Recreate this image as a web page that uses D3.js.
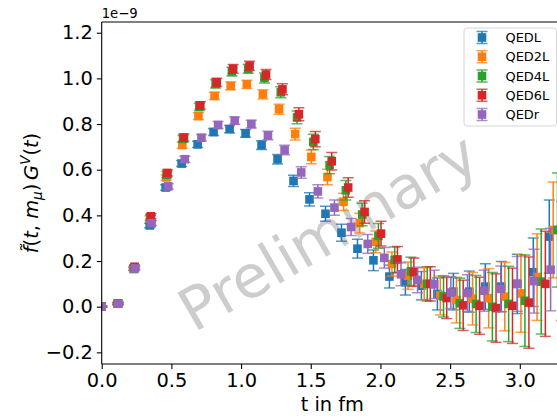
<!DOCTYPE html>
<html><head><meta charset="utf-8">
<script src="https://cdn.jsdelivr.net/npm/d3@7"></script>
<style>html,body{margin:0;padding:0;background:#fff;overflow:hidden}svg{display:block;font-family:"DejaVu Sans",sans-serif}</style>
</head><body><svg id="c" width="557" height="416"></svg>
<script>
// ---- data (values in units of 1e-9) ----
const seriesNames = ["QEDL", "QED2L", "QED4L", "QED6L", "QEDr"];
const seriesColors = ["#1f77b4", "#ff7f0e", "#2ca02c", "#d62728", "#9467bd"];
// time slices n and lattice spacing (fm) used for each series on the t axis
const timeSlices = [0,1,2,3,4,5,6,7,8,9,10,11,12,13,14,15,16,17,18,19,20,21,22,23,24,25,26,27,28];
const latticeSpacing = [0.1147, 0.1157, 0.1168, 0.1179, 0.1193];

const qedL    = [0.000,0.013,0.165,0.356,0.522,0.627,0.711,0.765,0.778,0.759,0.708,0.646,0.551,0.470,0.407,0.324,0.254,0.203,0.132,0.107,0.092,0.056,0.066,0.066,0.088,0.088,0.100,0.151,0.307];
const qedLErr = [0.002,0.004,0.007,0.010,0.012,0.013,0.014,0.015,0.016,0.017,0.019,0.021,0.025,0.029,0.033,0.037,0.041,0.045,0.050,0.056,0.062,0.070,0.080,0.090,0.100,0.110,0.130,0.150,0.160];
const qed2L    = [0.000,0.014,0.168,0.387,0.566,0.708,0.835,0.923,0.967,0.974,0.930,0.865,0.756,0.656,0.568,0.459,0.366,0.284,0.187,0.136,0.100,0.049,0.029,0.035,0.037,0.044,0.058,0.130,0.336];
const qed2LErr = [0.002,0.004,0.007,0.010,0.012,0.014,0.015,0.016,0.017,0.018,0.020,0.022,0.026,0.030,0.034,0.038,0.043,0.048,0.053,0.060,0.070,0.085,0.100,0.115,0.130,0.150,0.170,0.190,0.210];
const qed4L    = [0.000,0.014,0.170,0.390,0.578,0.735,0.875,0.976,1.030,1.042,1.002,0.939,0.829,0.722,0.620,0.510,0.404,0.310,0.205,0.155,0.100,0.045,0.015,0.012,0.000,0.012,0.026,0.110,0.336];
const qed4LErr = [0.002,0.004,0.008,0.011,0.013,0.015,0.016,0.018,0.019,0.020,0.022,0.024,0.028,0.033,0.038,0.043,0.049,0.054,0.057,0.062,0.075,0.090,0.110,0.125,0.150,0.165,0.200,0.230,0.250];
const qed6L    = [0.000,0.015,0.175,0.396,0.586,0.741,0.882,0.983,1.042,1.055,1.017,0.952,0.843,0.734,0.637,0.522,0.415,0.320,0.207,0.151,0.100,0.038,0.006,0.004,-0.006,0.004,0.018,0.100,0.200];
const qed6LErr = [0.002,0.004,0.008,0.011,0.013,0.015,0.016,0.018,0.019,0.020,0.022,0.024,0.028,0.033,0.038,0.043,0.049,0.054,0.057,0.062,0.075,0.090,0.110,0.125,0.150,0.165,0.200,0.230,0.260];
const qedR    = [0.000,0.013,0.168,0.366,0.527,0.646,0.740,0.796,0.815,0.800,0.750,0.686,0.588,0.505,0.434,0.349,0.275,0.214,0.142,0.117,0.098,0.062,0.060,0.070,0.078,0.100,0.112,0.162,0.170];
const qedRErr = [0.002,0.004,0.007,0.010,0.012,0.013,0.014,0.015,0.016,0.017,0.019,0.021,0.025,0.029,0.033,0.037,0.041,0.045,0.050,0.056,0.062,0.070,0.080,0.090,0.100,0.120,0.140,0.180,0.200];

const seriesValues = [qedL, qed2L, qed4L, qed6L, qedR];
const seriesErrors = [qedLErr, qed2LErr, qed4LErr, qed6LErr, qedRErr];

const xTicks = [0, 0.5, 1.0, 1.5, 2.0, 2.5, 3.0];
const yTicks = [-0.2, 0.0, 0.2, 0.4, 0.6, 0.8, 1.0, 1.2];
const xDomain = [0, 3.31];
const yDomain = [-0.251, 1.247];

// ---- layout ----
const svg = d3.select("#c");
const L = 101.7, R = 563, T = 22, B = 364;
const x = d3.scaleLinear().domain(xDomain).range([L, R]);
const y = d3.scaleLinear().domain(yDomain).range([B, T]);
const fs = 19.4;

svg.append("defs").append("clipPath").attr("id", "plotclip")
  .append("rect").attr("x", L).attr("y", T).attr("width", R - L).attr("height", B - T);

// watermark
svg.append("text")
  .attr("transform", "translate(328,232) rotate(-30)")
  .attr("text-anchor", "middle").attr("dominant-baseline", "central")
  .attr("font-size", 59).attr("fill", "#cdcdcd")
  .text("Preliminary");

// data
const plot = svg.append("g").attr("clip-path", "url(#plotclip)");
const half = 5.5, ms = 8.6;
seriesNames.forEach((name, k) => {
  const pts = timeSlices.map((n, i) => ({t: n * latticeSpacing[k], v: seriesValues[k][i], e: seriesErrors[k][i]}));
  const g = plot.append("g").attr("fill", seriesColors[k]).attr("stroke", seriesColors[k]);
  g.selectAll("line.eb").data(pts).join("line").attr("class", "eb")
    .attr("x1", d => x(d.t)).attr("x2", d => x(d.t))
    .attr("y1", d => y(d.v - d.e)).attr("y2", d => y(d.v + d.e))
    .attr("stroke-width", 1.5);
  g.selectAll("line.cu").data(pts).join("line").attr("class", "cu")
    .attr("x1", d => x(d.t) - half).attr("x2", d => x(d.t) + half)
    .attr("y1", d => y(d.v + d.e)).attr("y2", d => y(d.v + d.e))
    .attr("stroke-width", 1.5).attr("stroke-opacity", 0.75);
  g.selectAll("line.cl").data(pts).join("line").attr("class", "cl")
    .attr("x1", d => x(d.t) - half).attr("x2", d => x(d.t) + half)
    .attr("y1", d => y(d.v - d.e)).attr("y2", d => y(d.v - d.e))
    .attr("stroke-width", 1.5).attr("stroke-opacity", 0.75);
  g.selectAll("rect").data(pts).join("rect")
    .attr("x", d => x(d.t) - ms / 2).attr("y", d => y(d.v) - ms / 2)
    .attr("width", ms).attr("height", ms).attr("stroke", "none");
});

// axes
const xAxis = svg.append("g").attr("transform", `translate(0,${B})`)
  .call(d3.axisBottom(x).tickValues(xTicks).tickFormat(d3.format(".1f")).tickSizeInner(4.9).tickSizeOuter(0).tickPadding(4));
const yAxis = svg.append("g").attr("transform", `translate(${L},0)`)
  .call(d3.axisLeft(y).tickValues(yTicks).tickFormat(d3.format(".1f")).tickSizeInner(4.9).tickSizeOuter(0).tickPadding(4));
[xAxis, yAxis].forEach(a => {
  a.selectAll("text").attr("font-size", fs).attr("font-family", "DejaVu Sans").attr("fill", "#000");
  a.selectAll(".tick line").attr("stroke", "#000").attr("stroke-width", 1.1);
  a.select(".domain").remove();
});
// spines
svg.append("line").attr("x1", L).attr("x2", R).attr("y1", B).attr("y2", B).attr("stroke", "#000").attr("stroke-width", 1.1);
svg.append("line").attr("x1", L).attr("x2", L).attr("y1", T).attr("y2", B).attr("stroke", "#000").attr("stroke-width", 1.1);
svg.append("line").attr("x1", L).attr("x2", R).attr("y1", T).attr("y2", T).attr("stroke", "#000").attr("stroke-width", 1.1);

// offset text
svg.append("text").attr("x", L).attr("y", 17.5).attr("font-size", 13.2).text("1e\u22129");

// axis labels
svg.append("text").attr("x", (L + R) / 2).attr("y", 411).attr("text-anchor", "middle").attr("font-size", fs).text("t in fm");

const yl = svg.append("text").attr("transform", `translate(38,${(T + B) / 2}) rotate(-90)`)
  .attr("text-anchor", "middle").attr("font-size", fs);
yl.append("tspan").attr("font-style", "italic").text("f\u0303");
yl.append("tspan").text("(");
yl.append("tspan").attr("font-style", "italic").text("t");
yl.append("tspan").text(", ");
yl.append("tspan").attr("font-style", "italic").text("m");
yl.append("tspan").attr("font-style", "italic").attr("font-size", fs * 0.7).attr("dy", 4).text("\u03bc");
yl.append("tspan").attr("dy", -4).text(")\u2009");
yl.append("tspan").attr("font-style", "italic").text("G");
yl.append("tspan").attr("font-style", "italic").attr("font-size", fs * 0.7).attr("dy", -8).text("V");
yl.append("tspan").attr("dy", 8).text("(");
yl.append("tspan").attr("font-style", "italic").text("t");
yl.append("tspan").text(")");

// legend
const lg = svg.append("g");
lg.append("rect").attr("x", 464).attr("y", 28).attr("width", 92.5).attr("height", 98).attr("rx", 3)
  .attr("fill", "#fff").attr("fill-opacity", 0.8).attr("stroke", "#d6d6d6").attr("stroke-width", 1);
seriesNames.forEach((name, k) => {
  const cy = 37.5 + k * 19.25;
  const c = seriesColors[k];
  const hg = lg.append("g").attr("stroke", c).attr("fill", c);
  hg.append("line").attr("x1", 482).attr("x2", 482).attr("y1", cy - 6).attr("y2", cy + 6).attr("stroke-width", 1.5);
  hg.append("line").attr("x1", 476.5).attr("x2", 487.5).attr("y1", cy - 6).attr("y2", cy - 6).attr("stroke-width", 1.5).attr("stroke-opacity", 0.75);
  hg.append("line").attr("x1", 476.5).attr("x2", 487.5).attr("y1", cy + 6).attr("y2", cy + 6).attr("stroke-width", 1.5).attr("stroke-opacity", 0.75);
  hg.append("rect").attr("x", 482 - 4.3).attr("y", cy - 4.3).attr("width", 8.6).attr("height", 8.6).attr("stroke", "none");
  lg.append("text").attr("x", 505.5).attr("y", cy).attr("dominant-baseline", "central").attr("font-size", 12.9).text(name);
});
</script></body></html>
